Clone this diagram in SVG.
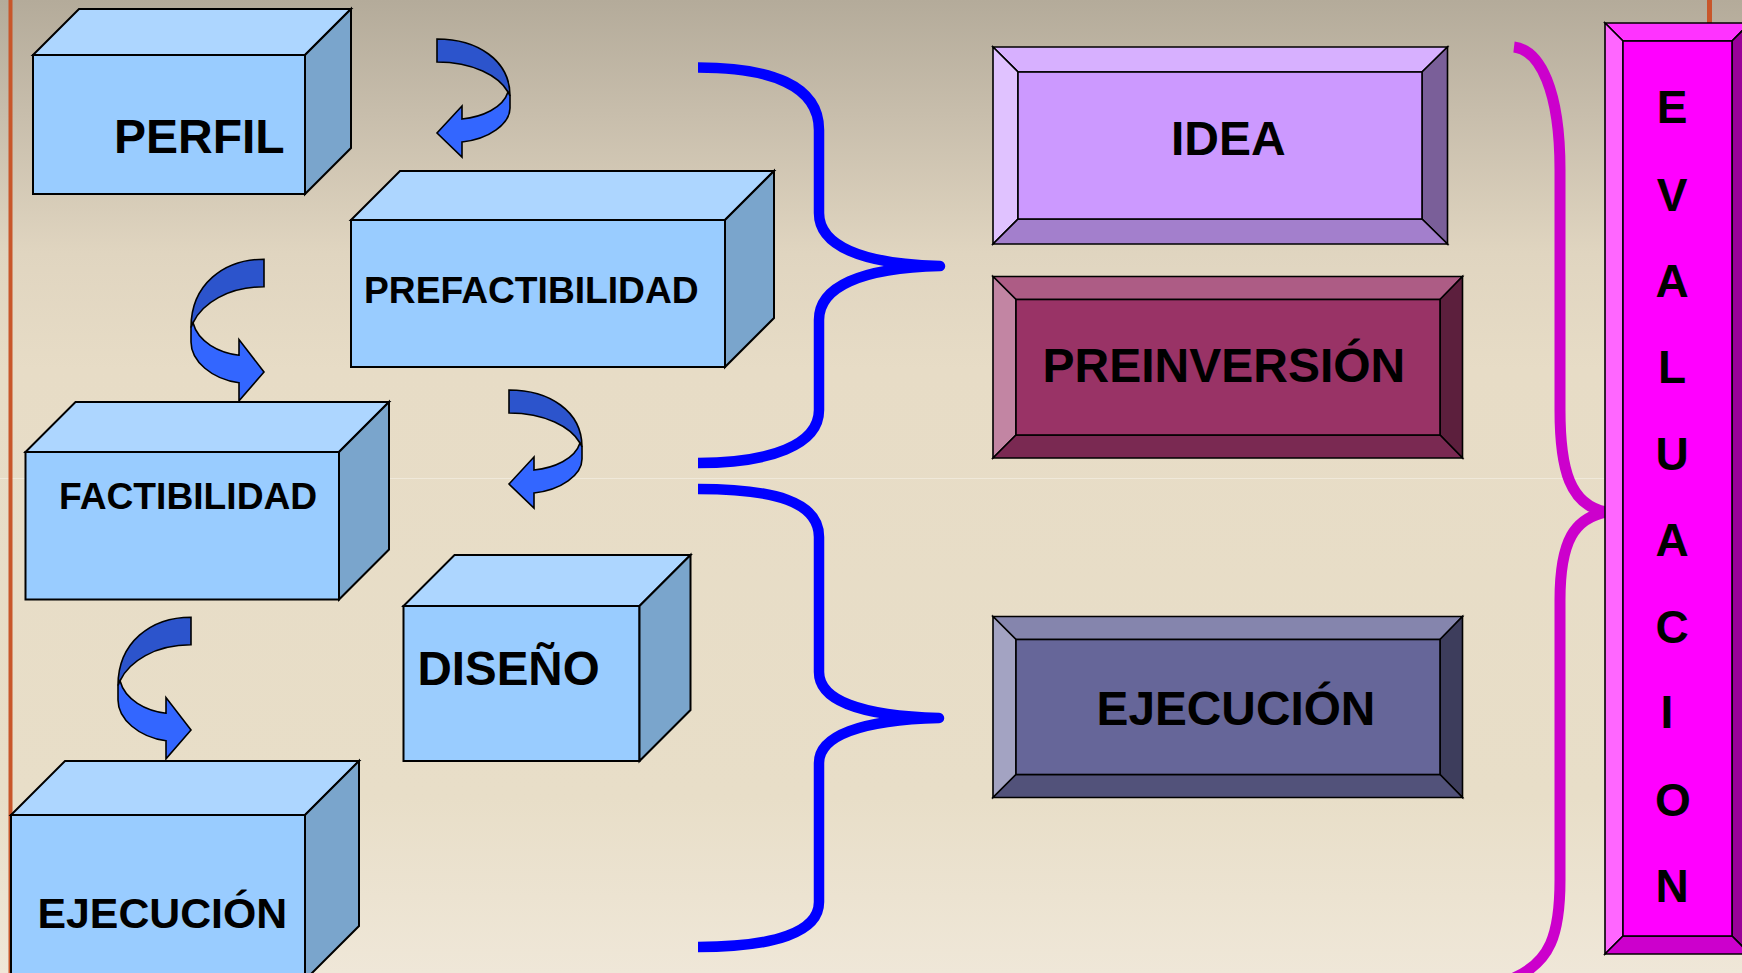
<svg xmlns="http://www.w3.org/2000/svg" xmlns:xlink="http://www.w3.org/1999/xlink" width="1742" height="973" viewBox="0 0 1742 973">
  <defs>
    <linearGradient id="bg" x1="0" y1="0" x2="0" y2="1">
      <stop offset="0" stop-color="#B4AB9A"/>
      <stop offset="0.12" stop-color="#C8BEAC"/>
      <stop offset="0.26" stop-color="#E0D5C0"/>
      <stop offset="0.38" stop-color="#E7DCC6"/>
      <stop offset="0.82" stop-color="#E8DEC8"/>
      <stop offset="1" stop-color="#EFE7D8"/>
    </linearGradient>
    <g id="carrow">
      <path class="arr-dark" d="M0,1 C40,1 73,22 73,58 L71,54 C62,38 36,24 0,24 Z"/>
      <path class="arr-light" d="M71,54 L73,58 L73,70 C73,86 52,101 25,104 L25,119 L0,95 L25,68 L25,81 C45,79 66,70 71,54 Z"/>
    </g>
    <style>
      .lbl { font-family: "Liberation Sans", Arial, Helvetica, sans-serif; font-weight: bold; fill: #000; }
      .cf { fill: #99CCFF; stroke: #000; stroke-width: 2; stroke-linejoin: miter; }
      .ct { fill: #ADD6FF; stroke: #000; stroke-width: 2; stroke-linejoin: miter; }
      .cs { fill: #7AA5CC; stroke: #000; stroke-width: 2; stroke-linejoin: miter; }
      .bv { stroke: #000; stroke-width: 1.6; stroke-linejoin: miter; }
      .arr-dark { fill: #2C54CC; stroke: #000; stroke-width: 1.6; vector-effect: non-scaling-stroke; stroke-linejoin: miter; }
      .arr-light { fill: #3366FF; stroke: #000; stroke-width: 1.6; vector-effect: non-scaling-stroke; stroke-linejoin: miter; }
      .brace-blue { fill: none; stroke: #0000FF; stroke-width: 10.5; stroke-linecap: butt; stroke-linejoin: round; }
      .brace-mag { fill: none; stroke: #CC00CC; stroke-width: 11; stroke-linecap: butt; stroke-linejoin: round; }
    </style>
  </defs>

  <!-- background -->
  <rect x="0" y="0" width="1742" height="973" fill="url(#bg)"/>
  <line x1="0" y1="478.5" x2="1742" y2="478.5" stroke="#F0E9DA" stroke-width="1"/>
  <line x1="10.5" y1="0" x2="10.5" y2="973" stroke="#C8562A" stroke-width="4"/>
  <line x1="1709.5" y1="0" x2="1709.5" y2="30" stroke="#C8562A" stroke-width="5"/>

  <!-- connectors -->
  <g id="connectors">
    <use xlink:href="#carrow" href="#carrow" transform="translate(437,38)"/>
    <use xlink:href="#carrow" href="#carrow" transform="translate(264,258) scale(-1,1.2)"/>
    <use xlink:href="#carrow" href="#carrow" transform="translate(509,389)"/>
    <use xlink:href="#carrow" href="#carrow" transform="translate(191,616) scale(-1,1.2)"/>
    <path class="brace-blue" d="M698,67.5 C770,67.5 819,85 819,130 L819,213 C819,245 860,264 940,266 C860,268 819,287 819,320 L819,410 C819,445 770,463 698,463"/>
    <path class="brace-blue" d="M698,489 C775,489 819,502 819,537 L819,672 C819,700 860,716 939,718 C860,720 819,736 819,763 L819,902 C819,932 775,947 698,947"/>
    <path class="brace-mag" d="M1514,47 C1540,50 1560,90 1560,170 L1560,410 C1560,470 1570,505 1606,512 C1575,518 1560,540 1560,600 L1560,880 C1560,935 1550,962 1514,978"/>
  </g>

  <!-- cubes -->
  <g id="perfil">
    <rect class="cf" x="33" y="55" width="272" height="139"/>
    <polygon class="ct" points="33,55 79,9 351,9 305,55"/>
    <polygon class="cs" points="305,55 351,9 351,148 305,194"/>
    <text class="lbl" x="114" y="153" font-size="48">PERFIL</text>
  </g>
  <g id="prefactibilidad">
    <rect class="cf" x="351" y="220" width="374" height="147"/>
    <polygon class="ct" points="351,220 400,171 774,171 725,220"/>
    <polygon class="cs" points="725,220 774,171 774,318 725,367"/>
    <text class="lbl" x="364" y="303" font-size="37.2">PREFACTIBILIDAD</text>
  </g>
  <g id="factibilidad">
    <rect class="cf" x="25.5" y="452" width="313.5" height="147.5"/>
    <polygon class="ct" points="25.5,452 75.5,402 389,402 339,452"/>
    <polygon class="cs" points="339,452 389,402 389,549.5 339,599.5"/>
    <text class="lbl" x="59" y="509" font-size="37.2">FACTIBILIDAD</text>
  </g>
  <g id="diseno">
    <rect class="cf" x="403.5" y="606" width="236" height="155"/>
    <polygon class="ct" points="403.5,606 454.5,555 690.5,555 639.5,606"/>
    <polygon class="cs" points="639.5,606 690.5,555 690.5,710 639.5,761"/>
    <text class="lbl" x="417.5" y="685" font-size="47.5">DISEÑO</text>
  </g>
  <g id="ejecucion-etapa">
    <rect class="cf" x="11" y="815" width="294" height="165"/>
    <polygon class="ct" points="11,815 65,761 359,761 305,815"/>
    <polygon class="cs" points="305,815 359,761 359,926 305,980"/>
    <text class="lbl" x="37.5" y="928" font-size="42.8">EJECUCIÓN</text>
  </g>

  <!-- bevel boxes -->
  <g id="idea">
    <polygon class="bv" fill="#D7B0FF" points="993,47 1447.5,47 1422,72 1018,72"/>
    <polygon class="bv" fill="#E0C2FF" points="993,47 1018,72 1018,219 993,244"/>
    <polygon class="bv" fill="#7A5F99" points="1447.5,47 1447.5,244 1422,219 1422,72"/>
    <polygon class="bv" fill="#A37FCC" points="993,244 1018,219 1422,219 1447.5,244"/>
    <rect class="bv" fill="#CC99FF" x="1018" y="72" width="404" height="147"/>
    <text class="lbl" x="1171" y="154.5" font-size="48">IDEA</text>
  </g>
  <g id="preinversion">
    <polygon class="bv" fill="#AD5C85" points="993,276.5 1462.5,276.5 1440,299.5 1016,299.5"/>
    <polygon class="bv" fill="#C285A3" points="993,276.5 1016,299.5 1016,435 993,458"/>
    <polygon class="bv" fill="#5C1F3D" points="1462.5,276.5 1462.5,458 1440,435 1440,299.5"/>
    <polygon class="bv" fill="#7A2952" points="993,458 1016,435 1440,435 1462.5,458"/>
    <rect class="bv" fill="#993366" x="1016" y="299.5" width="424" height="135.5"/>
    <text class="lbl" x="1042.5" y="382" font-size="48">PREINVERSIÓN</text>
  </g>
  <g id="ejecucion-fase">
    <polygon class="bv" fill="#8585AD" points="993,616.5 1462.5,616.5 1440,639.5 1016,639.5"/>
    <polygon class="bv" fill="#A3A3C2" points="993,616.5 1016,639.5 1016,774.5 993,797.5"/>
    <polygon class="bv" fill="#3D3D5C" points="1462.5,616.5 1462.5,797.5 1440,774.5 1440,639.5"/>
    <polygon class="bv" fill="#52527A" points="993,797.5 1016,774.5 1440,774.5 1462.5,797.5"/>
    <rect class="bv" fill="#666699" x="1016" y="639.5" width="424" height="135"/>
    <text class="lbl" x="1096.5" y="725" font-size="47.8">EJECUCIÓN</text>
  </g>
  <g id="evaluacion">
    <polygon class="bv" fill="#FF33FF" points="1605,23 1750,23 1732,41 1623,41"/>
    <polygon class="bv" fill="#FF66FF" points="1605,23 1623,41 1623,936 1605,954"/>
    <polygon class="bv" fill="#990099" points="1750,23 1750,954 1732,936 1732,41"/>
    <polygon class="bv" fill="#CC00CC" points="1605,954 1623,936 1732,936 1750,954"/>
    <rect class="bv" fill="#FF00FF" x="1623" y="41" width="109" height="895"/>
    <g class="lbl" font-size="46" text-anchor="middle">
      <text x="1672" y="123">E</text>
      <text x="1672" y="211">V</text>
      <text x="1672" y="297">A</text>
      <text x="1672" y="383">L</text>
      <text x="1672" y="470">U</text>
      <text x="1672" y="556">A</text>
      <text x="1672" y="643">C</text>
      <text x="1667" y="728">I</text>
      <text x="1673" y="816">O</text>
      <text x="1672" y="902">N</text>
    </g>
  </g>
</svg>
